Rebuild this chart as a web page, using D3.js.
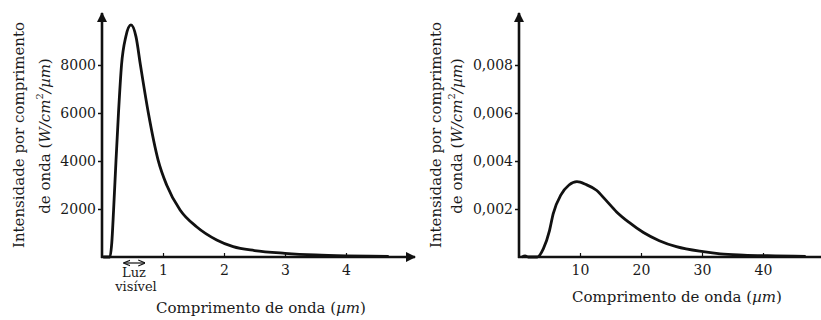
<!DOCTYPE html>
<html><head><meta charset="utf-8">
<script src="https://cdn.jsdelivr.net/npm/d3@7"></script>
<style>body{margin:0;background:#fff}svg{display:block}text{font-family:"DejaVu Serif",serif;fill:#1a1a1a}</style>
</head><body><svg id="c" width="821" height="320"></svg>
<script>
// Left panel: Sun-like spectrum (µm, W/cm²/µm)
const leftWavelength = [0.02,0.13,0.16,0.19,0.23,0.27,0.32,0.39,0.475,0.557,0.63,0.76,0.92,1.06,1.28,1.55,1.88,2.15,2.5,3.0,3.5,4.0,4.4,4.7];
const leftIntensity  = [0,0,580,1960,4040,5990,8000,9180,9670,9180,8000,6000,4040,3000,1960,1260,710,430,270,155,85,50,35,25];
const leftYTicks = [2000,4000,6000,8000];
const leftXTicks = [1,2,3,4];
// Right panel: Earth-like spectrum
const rightWavelength = [0.5,1,1.5,3,4,5,5.6,6.9,8.2,9.5,11,12.7,14.2,16,18,20.4,23,25.8,30.2,33,36.8,42,47];
const rightIntensity  = [0,0.00005,0,0,0.00035,0.0011,0.0018,0.0026,0.003,0.00314,0.00302,0.00278,0.00238,0.00188,0.00145,0.00102,0.00068,0.00043,0.00022,0.00013,0.00008,0.00005,0.00003];
const rightYTicks = [0.002,0.004,0.006,0.008];
const rightXTicks = [10,20,30,40];

const svg = d3.select("#c");
const defs = svg.append("defs");
defs.append("marker").attr("id","ah").attr("viewBox","0 0 10 10").attr("refX",9).attr("refY",5)
  .attr("markerWidth",4).attr("markerHeight",4).attr("orient","auto-start-reverse").attr("markerUnits","strokeWidth")
  .append("path").attr("d","M0,0L10,5L0,10z").attr("fill","#111");
defs.append("marker").attr("id","sa").attr("viewBox","0 0 10 10").attr("refX",9).attr("refY",5)
  .attr("markerWidth",6).attr("markerHeight",6).attr("orient","auto-start-reverse")
  .append("path").attr("d","M0,1L10,5L0,9").attr("fill","none").attr("stroke","#111").attr("stroke-width",1.5);

function panel(o){
  const g = svg.append("g");
  const x = d3.scaleLinear().domain(o.xDomain).range(o.xRange);
  const y = d3.scaleLinear().domain(o.yDomain).range([257,17]);
  const ya = g.append("g").attr("transform",`translate(${x(0)},0)`)
    .call(d3.axisLeft(y).tickValues(o.yTicks).tickSize(4).tickPadding(2).tickFormat(o.yFmt));
  ya.select(".domain").remove();
  ya.selectAll("line").attr("stroke","#111").attr("stroke-width",1.5);
  ya.selectAll("text").attr("font-size",14).attr("font-family","DejaVu Serif").attr("fill","#1a1a1a");
  const xa = g.append("g").attr("transform",`translate(0,${y(0)})`)
    .call(d3.axisBottom(x).tickValues(o.xTicks).tickSizeInner(-4).tickSizeOuter(0).tickPadding(8).tickFormat(d3.format("d")));
  xa.select(".domain").remove();
  xa.selectAll("line").attr("stroke","#111").attr("stroke-width",1.2);
  xa.selectAll("text").attr("font-size",14).attr("font-family","DejaVu Serif").attr("fill","#1a1a1a");
  g.append("line").attr("x1",x(0)).attr("x2",x(0)).attr("y1",y(0)+1).attr("y2",13)
    .attr("stroke","#111").attr("stroke-width",2.6).attr("marker-end","url(#ah)");
  const xl = g.append("line").attr("x1",x(0)-1).attr("x2",o.xEnd).attr("y1",y(0)).attr("y2",y(0))
    .attr("stroke","#111").attr("stroke-width",2.6);
  if(o.arrowX) xl.attr("marker-end","url(#ah)");
  g.append("path").datum(o.xs.map((v,i)=>[v,o.ys[i]]))
    .attr("d", d3.line().x(d=>x(d[0])).y(d=>y(d[1])).curve(d3.curveMonotoneX))
    .attr("fill","none").attr("stroke","#111").attr("stroke-width",2.8).attr("stroke-linejoin","round");
  g.append("text").attr("transform",`translate(${o.yl1},135) rotate(-90)`)
    .attr("text-anchor","middle").attr("dy","0.35em").attr("font-size",15).text("Intensidade por comprimento");
  const t2 = g.append("text").attr("transform",`translate(${o.yl2},136) rotate(-90)`)
    .attr("text-anchor","middle").attr("dy","0.35em").attr("font-size",15);
  t2.append("tspan").text("de onda (");
  t2.append("tspan").attr("font-style","italic").text("W/cm");
  t2.append("tspan").attr("font-size",10).attr("dy","-0.7em").text("2");
  t2.append("tspan").attr("font-style","italic").attr("dy","0.47em").text("/µm");
  t2.append("tspan").text(")");
  const xt = g.append("text").attr("x",o.xlx).attr("y",o.xly).attr("text-anchor","middle").attr("font-size",15);
  xt.append("tspan").text("Comprimento de onda (");
  xt.append("tspan").attr("font-style","italic").text("µm");
  xt.append("tspan").text(")");
  return {g,x,y};
}

const L = panel({xDomain:[0,5],xRange:[102,407],yDomain:[0,10000],yTicks:leftYTicks,xTicks:leftXTicks,
  yFmt:d3.format("d"),xEnd:415,arrowX:true,xs:leftWavelength,ys:leftIntensity,yl1:19,yl2:45,xlx:261,xly:313});
const R = panel({xDomain:[0,50],xRange:[519,824],yDomain:[0,0.01],yTicks:rightYTicks,xTicks:rightXTicks,
  yFmt:d=>d.toFixed(3).replace(".",","),xEnd:821,arrowX:false,xs:rightWavelength,ys:rightIntensity,yl1:436,yl2:457,xlx:677,xly:302});

// visible light annotation
L.g.append("line").attr("x1",L.x(0.36)).attr("x2",L.x(0.7)).attr("y1",263).attr("y2",263)
  .attr("stroke","#111").attr("stroke-width",1.2).attr("marker-start","url(#sa)").attr("marker-end","url(#sa)");
L.g.append("text").attr("x",134).attr("y",277).attr("text-anchor","middle").attr("font-size",13).text("Luz");
L.g.append("text").attr("x",136).attr("y",291).attr("text-anchor","middle").attr("font-size",13).text("visível");
</script></body></html>
